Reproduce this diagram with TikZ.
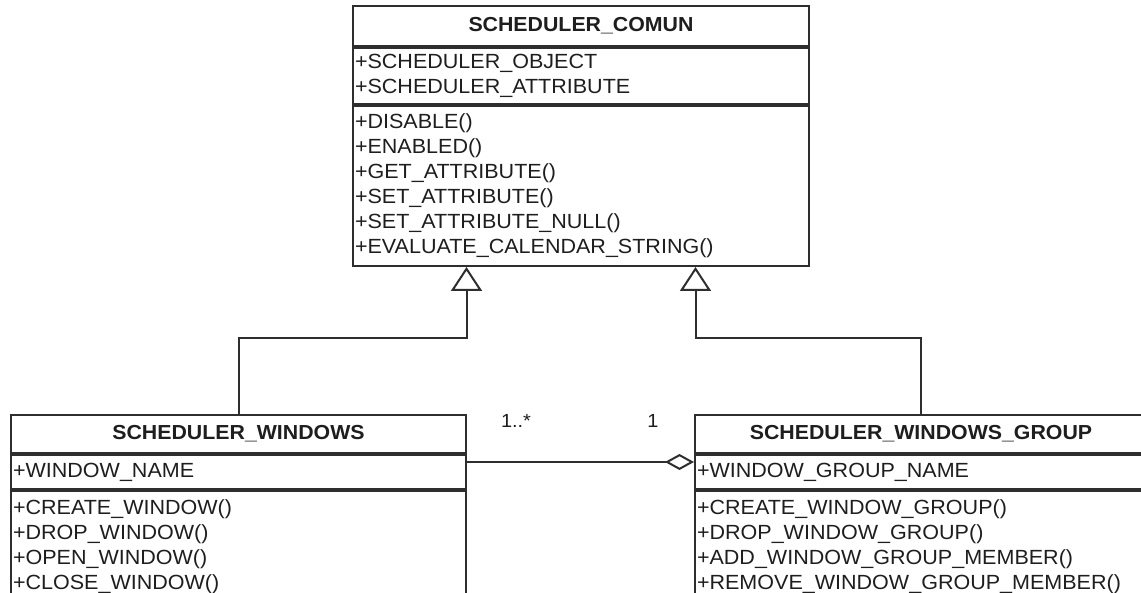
\documentclass[tikz,border=0pt]{standalone}
\usepackage{fontspec}
\setmainfont{Liberation Sans}[FakeStretch=1.05]
\usetikzlibrary{arrows.meta,positioning,calc}
\definecolor{umlline}{HTML}{2E2E2E}
\definecolor{umltext}{HTML}{1E1E1E}

\begin{document}
\begin{tikzpicture}[
  x=1pt, y=-1pt,
  classhd/.style={draw=umlline, line width=2pt, text=umltext,
              font=\fontsize{20.3}{25}\selectfont\bfseries,
              text width=#1, align=center, inner xsep=2pt, inner ysep=0pt},
  members/.style={draw=umlline, line width=2pt, text=umltext,
              font=\fontsize{20.5}{25}\selectfont,
              text width=#1, align=left, inner xsep=2pt, inner ysep=0pt},
  mult/.style={font=\fontsize{19}{22}\selectfont, text=umltext},
  generalize/.style={draw=umlline, line width=2pt,
              -{Triangle[open, length=24pt, width=31pt]}},
  aggregate/.style={draw=umlline, line width=2pt,
              -{Diamond[open, length=29pt, width=16pt]}},
]

%% ---- canvas (the picture is cut at right and bottom) ----
\useasboundingbox (0,0) rectangle (1141,593);
\fill[white] (0,0) rectangle (1141,593);
\clip (0,0) rectangle (1141,593);

%% ---- base class ----
\node[classhd=452, minimum height=40] (comun) at (581,26)
  {SCHEDULER\_COMUN};
\node[members=452, minimum height=56, below=0pt of comun] (comunattr)
  {+SCHEDULER\_OBJECT\\+SCHEDULER\_ATTRIBUTE};
\node[members=452, minimum height=160, below=0pt of comunattr] (comunops)
  {+DISABLE()\\+ENABLED()\\+GET\_ATTRIBUTE()\\+SET\_ATTRIBUTE()\\
   +SET\_ATTRIBUTE\_NULL()\\+EVALUATE\_CALENDAR\_STRING()};

%% ---- windows ----
\node[classhd=451, minimum height=38] (win) at (238.5,434)
  {SCHEDULER\_WINDOWS};
\node[members=451, minimum height=34, below=0pt of win] (winattr)
  {+WINDOW\_NAME};
\node[members=451, minimum height=112, below=0pt of winattr] (winops)
  {+CREATE\_WINDOW()\\+DROP\_WINDOW()\\+OPEN\_WINDOW()\\+CLOSE\_WINDOW()};

%% ---- window groups ----
\node[classhd=448, minimum height=38] (grp) at (921,434)
  {SCHEDULER\_WINDOWS\_GROUP};
\node[members=448, minimum height=34, below=0pt of grp] (grpattr)
  {+WINDOW\_GROUP\_NAME};
\node[members=448, minimum height=112, below=0pt of grpattr] (grpops)
  {+CREATE\_WINDOW\_GROUP()\\+DROP\_WINDOW\_GROUP()\\
   +ADD\_WINDOW\_GROUP\_MEMBER()\\+REMOVE\_WINDOW\_GROUP\_MEMBER()};

%% ---- inheritance ----
\draw[generalize] (win.north) -- ++(0,-76)
  -| ($(comunops.south west)!0.25!(comunops.south east)$);
\draw[generalize] (grp.north) -- ++(0,-76)
  -| ($(comunops.south west)!0.75!(comunops.south east)$);

%% ---- aggregation ----
\draw[aggregate] ([yshift=-8pt]winattr.north east)
  -- ([yshift=-8pt]grpattr.north west);
\node[mult] (many) at (516,421) {1..*};
\node[mult] (one) at (653,421) {1};

\end{tikzpicture}
\end{document}
